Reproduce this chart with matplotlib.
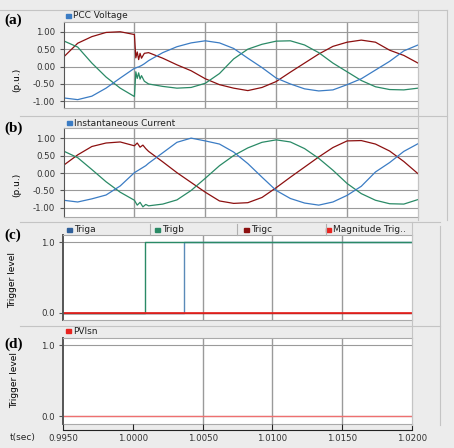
import numpy as np
import matplotlib.pyplot as plt
from matplotlib.patches import Rectangle
from matplotlib.lines import Line2D

W, H = 454, 448

# ---- panel (a): PCC voltage (p.u.) ----
t_a = [0.9950, 0.9960, 0.9970, 0.9980, 0.9990, 1.0000,
       1.0001, 1.0002, 1.0003, 1.0004, 1.0005, 1.0007,
       1.0010, 1.0020, 1.0030, 1.0040, 1.0050, 1.0060, 1.0070, 1.0080, 1.0090, 1.0100,
       1.0110, 1.0120, 1.0130, 1.0140, 1.0150, 1.0160, 1.0170, 1.0180, 1.0190, 1.0200]
va_blue = [-0.90, -0.95, -0.85, -0.62, -0.33, -0.05,
           -0.04, -0.02, -0.01, 0.01, 0.03, 0.08,
           0.17, 0.40, 0.57, 0.68, 0.74, 0.68, 0.52, 0.24, -0.03, -0.33,
           -0.50, -0.64, -0.70, -0.67, -0.52, -0.35, -0.10, 0.15, 0.45, 0.62]
va_red = [0.27, 0.67, 0.86, 0.98, 1.00, 0.92,
          0.25, 0.42, 0.20, 0.38, 0.24, 0.38,
          0.40, 0.24, 0.05, -0.12, -0.35, -0.52, -0.62, -0.69, -0.60, -0.43,
          -0.16, 0.10, 0.36, 0.58, 0.70, 0.76, 0.70, 0.47, 0.32, 0.10]
va_green = [0.74, 0.56, 0.10, -0.30, -0.62, -0.86,
            -0.15, -0.34, -0.18, -0.36, -0.26, -0.42,
            -0.50, -0.57, -0.62, -0.60, -0.48, -0.20, 0.22, 0.50, 0.64, 0.73,
            0.74, 0.62, 0.40, 0.10, -0.15, -0.40, -0.58, -0.66, -0.67, -0.62]

# ---- panel (b): instantaneous current (p.u.) ----
t_b = [0.9950, 0.9960, 0.9970, 0.9980, 0.9990, 1.0000,
       1.0002, 1.0004, 1.0006, 1.0008,
       1.0010, 1.0020, 1.0030, 1.0040, 1.0050, 1.0060, 1.0070, 1.0080, 1.0090, 1.0100,
       1.0110, 1.0120, 1.0130, 1.0140, 1.0150, 1.0160, 1.0170, 1.0180, 1.0190, 1.0200]
ib_blue = [-0.78, -0.83, -0.74, -0.63, -0.37, 0.01,
           0.06, 0.11, 0.16, 0.21,
           0.28, 0.58, 0.88, 1.00, 0.92, 0.83, 0.60, 0.27, -0.12, -0.50,
           -0.73, -0.86, -0.92, -0.83, -0.64, -0.38, 0.03, 0.30, 0.62, 0.84]
ib_red = [0.22, 0.52, 0.76, 0.86, 0.89, 0.78,
          0.86, 0.74, 0.80, 0.70,
          0.62, 0.32, 0.01, -0.27, -0.55, -0.80, -0.87, -0.85, -0.70, -0.42,
          -0.12, 0.17, 0.46, 0.73, 0.92, 0.93, 0.83, 0.63, 0.33, -0.02]
ib_green = [0.63, 0.44, 0.10, -0.25, -0.55, -0.78,
            -0.92, -0.84, -0.97, -0.90,
            -0.94, -0.89, -0.77, -0.50, -0.15, 0.21, 0.50, 0.72, 0.88, 0.95,
            0.89, 0.70, 0.42, 0.08, -0.30, -0.59, -0.78, -0.88, -0.89, -0.76]

# ---- panel (c)/(d): trigger signals ----
t_trig = [0.9950, 1.0009, 1.0037, 1.0200]
triga = [0, 0, 1, 1]
trigb = [0, 1, 1, 1]
trigc = [0, 0, 0, 0]
mag_trig = [0, 0, 0, 0]
pvisn = [0, 0, 0, 0]

xticks = [0.995, 1.000, 1.005, 1.010, 1.015, 1.020]
xticklabels = ["0.9950", "1.0000", "1.0050", "1.0100", "1.0150", "1.0200"]

BLUE = "#3b7cc4"
DRED = "#8c1010"
GREEN = "#2a8a66"
RED = "#e8231f"
GRID = "#9a9a9a"
BG = "#ececec"

fig = plt.figure(figsize=(W / 100, H / 100), dpi=100, facecolor=BG)


def px_axes(l, t, r, b):
    return fig.add_axes([l / W, 1 - b / H, (r - l) / W, (b - t) / H])


def hline(y, x0, x1, color="#c4c4c4", lw=0.8):
    fig.add_artist(Line2D([x0 / W, x1 / W], [1 - y / H, 1 - y / H], color=color, lw=lw))


def vline(x, y0, y1, color="#c4c4c4", lw=0.8):
    fig.add_artist(Line2D([x / W, x / W], [1 - y0 / H, 1 - y1 / H], color=color, lw=lw))


def header(x, y, color, label):
    fig.add_artist(Rectangle(((x - 7) / W, 1 - (y + 2) / H), 5 / W, 4 / H,
                             transform=fig.transFigure, color=color))
    fig.text(x / W, 1 - y / H, label, fontsize=6.5, va="center", ha="left", color="#222222")


def style(ax, ylim, yticks, yticklabels, xgrid, left_lw=0.8):
    ax.set_facecolor("white")
    ax.set_xlim(0.995, 1.020)
    ax.set_ylim(*ylim)
    ax.set_xticks([])
    ax.set_yticks(yticks)
    ax.set_yticklabels(yticklabels, fontsize=6.2, color="#333333")
    ax.tick_params(axis="y", length=3, width=0.8, color="#555555", pad=3)
    for y in yticks:
        ax.axhline(y, color=GRID, lw=0.8, zorder=0)
    for x in xgrid:
        ax.axvline(x, color=GRID, lw=1.0, zorder=0)
    for s in ax.spines.values():
        s.set_color("#aaaaaa")
        s.set_linewidth(0.8)
    ax.spines["left"].set_color("#555555")
    ax.spines["left"].set_linewidth(left_lw)


# panel frames / separators
hline(10, 0, 447)
hline(116, 20, 447)
hline(222, 20, 440)
hline(326, 20, 440)
vline(418, 10, 220)
vline(447, 10, 220)
vline(412, 222, 425)
vline(440, 226, 425)

# (a)
ax_a = px_axes(63.5, 22, 418, 108)
style(ax_a, (-1.19, 1.28), [1, 0.5, 0, -0.5, -1],
      ["1.00", "0.50", "0.00", "-0.50", "-1.00"], [1.000, 1.005, 1.010, 1.015])
ax_a.plot(t_a, va_red, color=DRED, lw=0.9)
ax_a.plot(t_a, va_green, color=GREEN, lw=0.9)
ax_a.plot(t_a, va_blue, color=BLUE, lw=0.9)
header(73, 16, BLUE, "PCC Voltage")

# (b)
ax_b = px_axes(63.5, 128, 418, 217)
style(ax_b, (-1.26, 1.29), [1, 0.5, 0, -0.5, -1],
      ["1.00", "0.50", "0.00", "-0.50", "-1.00"], [1.000, 1.005, 1.010, 1.015])
ax_b.plot(t_b, ib_red, color=DRED, lw=0.9)
ax_b.plot(t_b, ib_green, color=GREEN, lw=0.9)
ax_b.plot(t_b, ib_blue, color=BLUE, lw=0.9)
header(74, 123, BLUE, "Instantaneous Current")

# (c)
ax_c = px_axes(63, 235, 412, 320)
style(ax_c, (-0.10, 1.10), [1, 0], ["1.0", "0.0"], [1.005, 1.010, 1.015], left_lw=1.4)
ax_c.plot(t_trig, triga, color="#5a8ab8", lw=1.0, drawstyle="steps-post")
ax_c.plot(t_trig, trigb, color=GREEN, lw=1.0, drawstyle="steps-post")
ax_c.plot(t_trig, trigc, color=DRED, lw=1.0, drawstyle="steps-post")
ax_c.plot(t_trig, mag_trig, color=RED, lw=1.2, drawstyle="steps-post")
header(74, 230, "#2f5f9a", "Triga")
header(162, 230, GREEN, "Trigb")
header(251, 230, DRED, "Trigc")
header(333, 230, RED, "Magnitude Trig..")
vline(150, 224, 235, color="#b0b0b0")
vline(237, 224, 235, color="#b0b0b0")
vline(326, 224, 235, color="#b0b0b0")

# (d)
ax_d = px_axes(63, 338, 412, 424)
style(ax_d, (-0.11, 1.10), [1, 0], ["1.0", "0.0"], [1.005, 1.010, 1.015], left_lw=1.4)
ax_d.plot(t_trig, pvisn, color="#ee7070", lw=1.0, drawstyle="steps-post")
header(73, 331, RED, "PVIsn")

# shared time axis
ax_t = fig.add_axes([63 / W, 1 - 430 / H, (412 - 63) / W, 0.0001])
ax_t.set_facecolor("none")
ax_t.set_xlim(0.995, 1.020)
ax_t.set_yticks([])
for s in ["left", "right", "top"]:
    ax_t.spines[s].set_visible(False)
ax_t.spines["bottom"].set_color("#222222")
ax_t.set_xticks(xticks)
ax_t.set_xticklabels(xticklabels, fontsize=6.2, color="#333333")
ax_t.tick_params(axis="x", direction="in", length=4, color="#222222", pad=3)
fig.text(10 / W, 1 - 437 / H, "t(sec)", fontsize=6.5, va="center", ha="left", color="#222222")

# panel letters and axis titles
for lab, y in [("(a)", 20), ("(b)", 128), ("(c)", 235), ("(d)", 344)]:
    fig.text(4 / W, 1 - y / H, lab, fontsize=11, fontweight="bold",
             family="Liberation Serif", va="center", ha="left")
fig.text(17 / W, 1 - 80 / H, "(p.u.)", fontsize=6.5, rotation=90, va="center", ha="center")
fig.text(17 / W, 1 - 185 / H, "(p.u.)", fontsize=6.5, rotation=90, va="center", ha="center")
fig.text(13 / W, 1 - 280 / H, "Trigger level", fontsize=6.5, rotation=90, va="center", ha="center")
fig.text(15 / W, 1 - 380 / H, "Trigger level", fontsize=6.5, rotation=90, va="center", ha="center")

fig.savefig("out.png", dpi=100, facecolor=BG)
